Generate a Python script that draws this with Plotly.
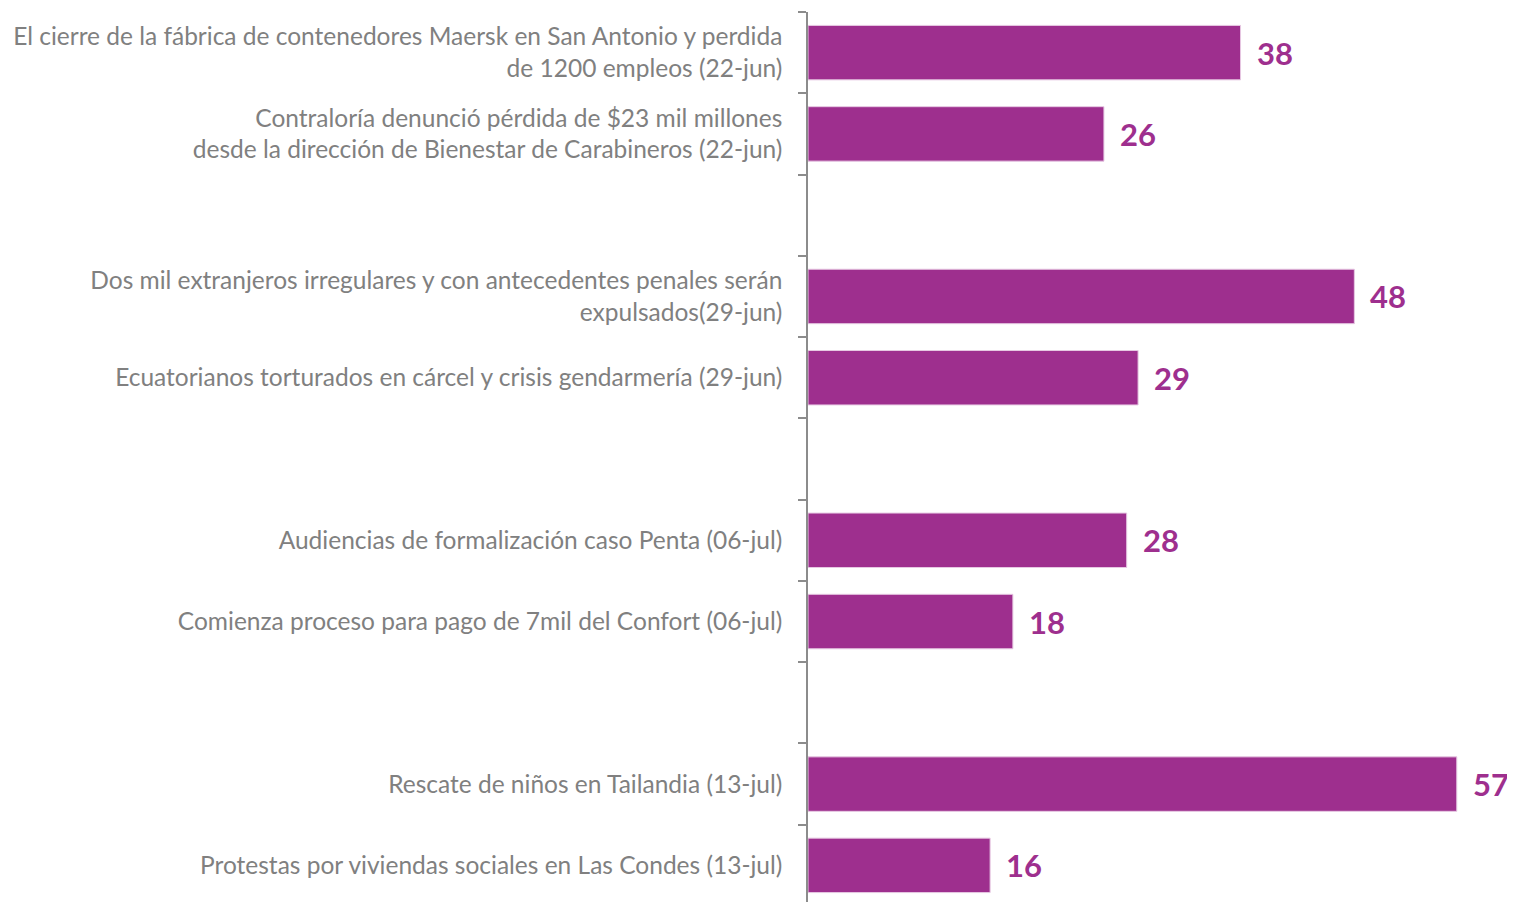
import plotly.graph_objects as go

categories = [
    "El cierre de la fábrica de contenedores Maersk en San Antonio y perdida<br>de 1200 empleos (22-jun)",
    "Contraloría denunció pérdida de $23 mil millones<br>desde la dirección de Bienestar de Carabineros (22-jun)",
    " ",
    "Dos mil extranjeros irregulares y con antecedentes penales serán<br>expulsados(29-jun)",
    "Ecuatorianos torturados en cárcel y crisis gendarmería (29-jun)",
    "  ",
    "Audiencias de formalización caso Penta (06-jul)",
    "Comienza proceso para pago de 7mil del Confort (06-jul)",
    "   ",
    "Rescate de niños en Tailandia (13-jul)",
    "Protestas por viviendas sociales en Las Condes (13-jul)",
]
values = [38, 26, None, 48, 29, None, 28, 18, None, 57, 16]

BAR = "#9E2F8E"
GRAY = "#808080"

fig = go.Figure()
fig.add_trace(go.Bar(
    x=values,
    y=categories,
    orientation="h",
    marker=dict(color=BAR, line=dict(color="#E6C8E2", width=1)),
    hoverinfo="skip",
))

for c, v in zip(categories, values):
    if v is not None:
        fig.add_annotation(
            x=v, y=c, text=str(v), showarrow=False,
            xanchor="left", yanchor="middle", xshift=14,
            font=dict(family="Lato", size=31, color=BAR, weight="bold"),
        )

fig.update_layout(
    width=1500, height=898,
    margin=dict(l=800, r=0, t=4, b=0),
    paper_bgcolor="white", plot_bgcolor="white",
    bargap=0.33,
    showlegend=False,
    xaxis=dict(visible=False, range=[0, 61.5], fixedrange=True),
    yaxis=dict(
        type="category",
        categoryorder="array", categoryarray=categories,
        autorange="reversed",
        showline=True, linecolor="#8C8C8C", linewidth=1.5,
        ticks="outside", ticklen=8, tickcolor="#8C8C8C", tickwidth=1.5,
        tickson="boundaries",
        ticklabelstandoff=19,
        tickfont=dict(family="Lato", size=24.5, color=GRAY),
        showgrid=False, zeroline=False,
        automargin=False,
    ),
)

fig.write_html("out.html")
